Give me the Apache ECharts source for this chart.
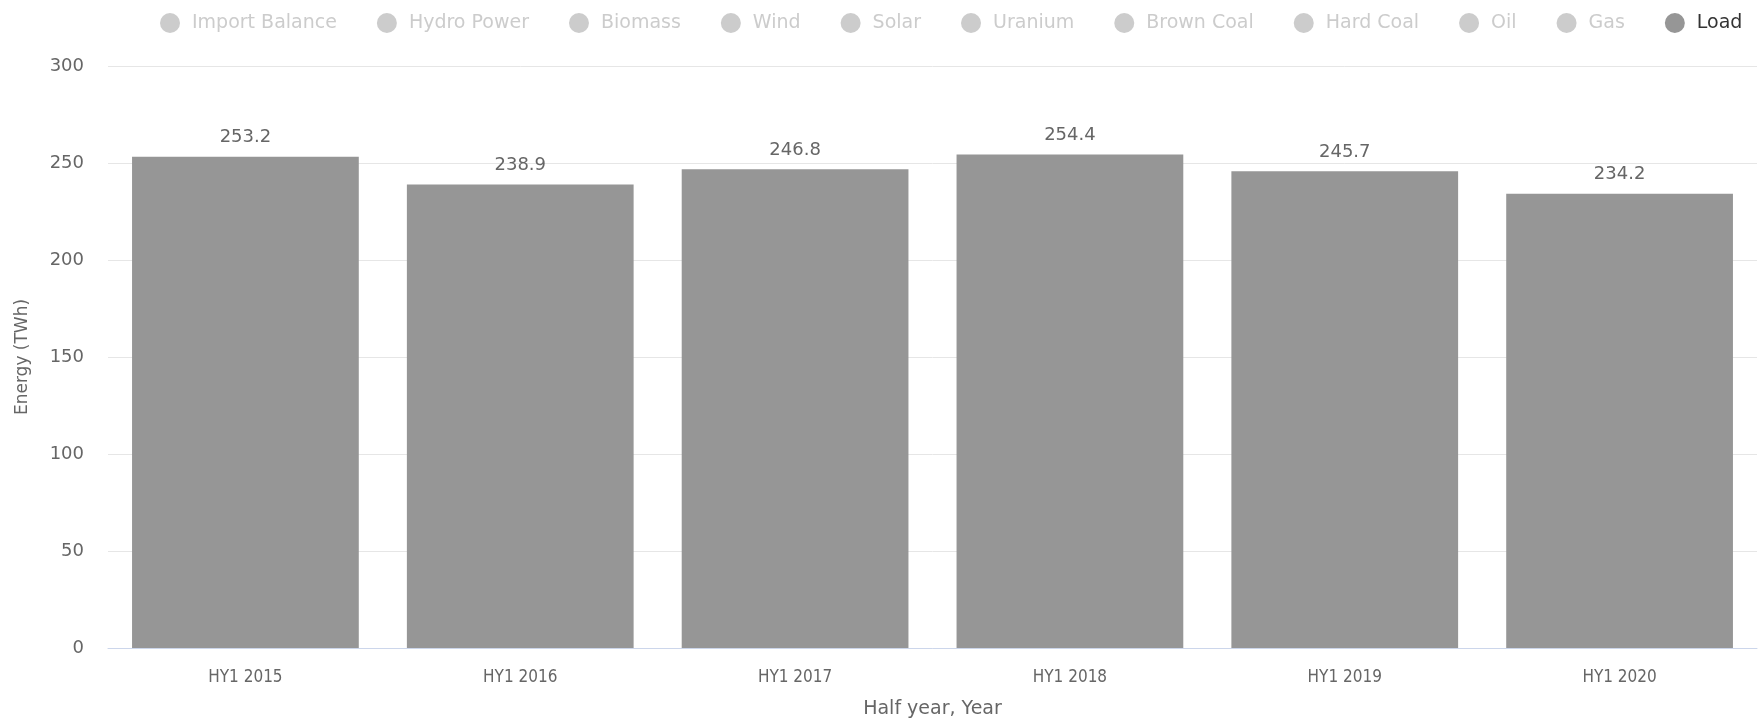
<!DOCTYPE html>
<html>
<head>
<meta charset="utf-8">
<title>Load</title>
<script src="https://cdn.jsdelivr.net/npm/echarts@6/dist/echarts.min.js"></script>
<style>
    html, body { margin: 0; padding: 0; background: #fff; }
    #chart { width: 1764px; height: 718px; }
</style>
</head>
<body>
<div id="chart"></div>
<script>
    // categories and values
    let periods = ['HY1 2015', 'HY1 2016', 'HY1 2017', 'HY1 2018', 'HY1 2019', 'HY1 2020'];
    let loadValues = [253.2, 238.9, 246.8, 254.4, 245.7, 234.2];
    // sources that are switched off in the legend (no data shown)
    let sourceNames = ['Import Balance', 'Hydro Power', 'Biomass', 'Wind', 'Solar', 'Uranium',
        'Brown Coal', 'Hard Coal', 'Oil', 'Gas'];
    let yTicks = { min: 0, max: 300, interval: 50 };

    let chart = echarts.init(document.getElementById('chart'));
    let numFont = '"DejaVu Sans", sans-serif';
    let narrowFont = '"DejaVu Sans Condensed", "DejaVu Sans", sans-serif';

    let selected = {};
    sourceNames.forEach(n => selected[n] = false);
    selected['Load'] = true;

    let series = sourceNames.map(n => ({
        name: n,
        type: 'bar',
        stack: 'gen',
        data: []
    }));
    series.push({
        name: 'Load',
        type: 'bar',
        data: loadValues,
        barCategoryGap: '17.5%',
        itemStyle: { color: '#969696' },
        label: {
            show: true,
            position: 'top',
            distance: 10,
            color: '#666',
            fontFamily: numFont,
            fontSize: 18,
            formatter: p => p.value.toFixed(1)
        }
    });

    let option = {
        animation: false,
        backgroundColor: '#fff',
        color: ['#ccc', '#ccc', '#ccc', '#ccc', '#ccc', '#ccc', '#ccc', '#ccc', '#ccc', '#ccc', '#969696'],
        legend: {
            data: sourceNames.concat(['Load']),
            selected: selected,
            left: 155,
            top: 8,
            icon: 'circle',
            itemWidth: 20,
            itemHeight: 20,
            itemGap: 40,
            inactiveColor: '#ccc',
            textStyle: {
                color: '#333',
                fontFamily: numFont,
                fontSize: 19,
                padding: [0, 0, 0, 7]
            }
        },
        grid: {
            left: 108,
            right: 7,
            top: 66,
            bottom: 70,
            outerBoundsMode: 'none'
        },
        xAxis: {
            type: 'category',
            data: periods,
            name: 'Half year, Year',
            nameLocation: 'middle',
            nameGap: 52,
            nameTextStyle: { color: '#666', fontFamily: numFont, fontSize: 19 },
            axisLine: { lineStyle: { color: '#ccd6eb' } },
            axisTick: { show: false },
            axisLabel: { color: '#666', fontFamily: narrowFont, fontSize: 17, margin: 21 }
        },
        yAxis: {
            type: 'value',
            min: yTicks.min,
            max: yTicks.max,
            interval: yTicks.interval,
            name: 'Energy (TWh)',
            nameLocation: 'middle',
            nameGap: 77,
            nameTextStyle: { color: '#666', fontFamily: numFont, fontSize: 17 },
            axisLabel: { color: '#666', fontFamily: numFont, fontSize: 18, margin: 24 },
            splitLine: { lineStyle: { color: '#e6e6e6' } }
        },
        series: series
    };

    option && chart.setOption(option);
</script>
</body>
</html>
